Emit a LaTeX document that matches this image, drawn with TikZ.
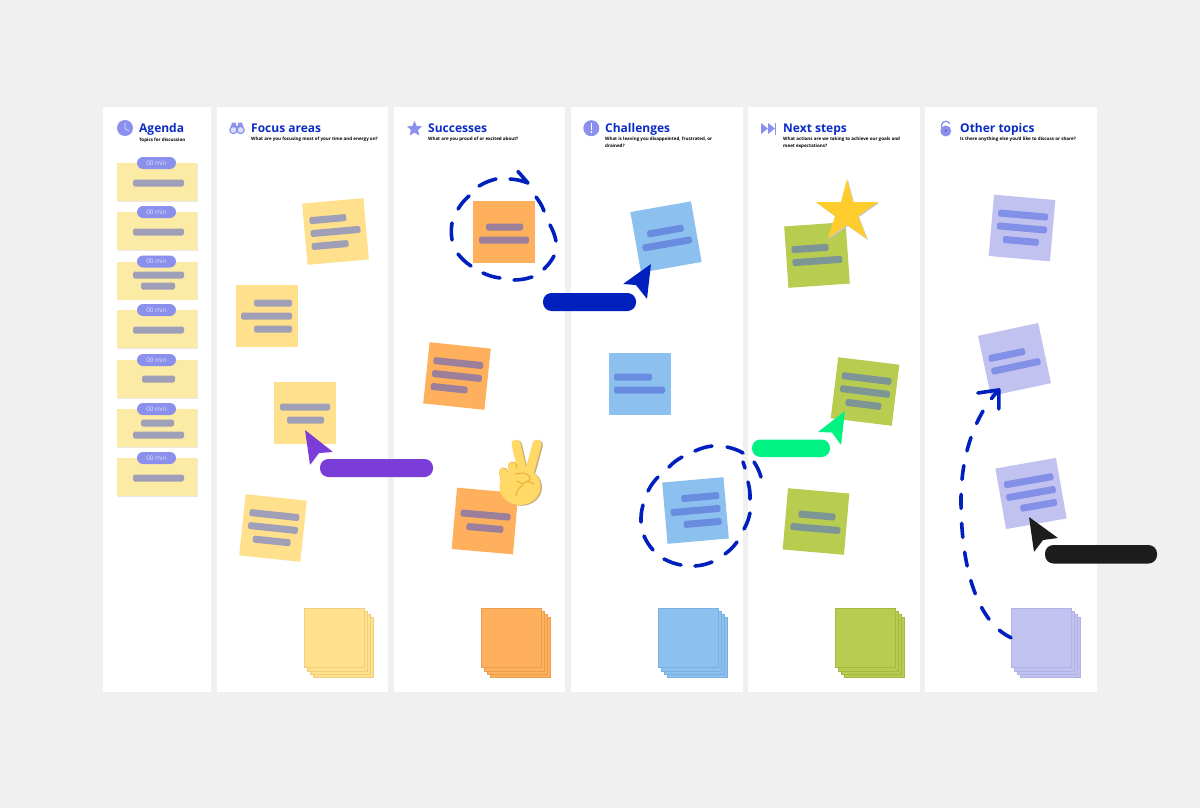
\documentclass[tikz,border=0pt]{standalone}
\usepackage{fontspec}
\setmainfont{Open Sans}
\usetikzlibrary{calc}
\definecolor{pagebg}{HTML}{F0F0F0}
\definecolor{navy}{HTML}{0A2BC8}
\definecolor{dashblue}{HTML}{0020BE}
\definecolor{iconblue}{HTML}{8A90EC}
\definecolor{cardy}{HTML}{FBEBA5}
\definecolor{ye}{HTML}{FFE08C}\definecolor{yeb}{HTML}{A09FB8}\definecolor{yee}{HTML}{EFCF7E}
\definecolor{or}{HTML}{FFB05C}\definecolor{orb}{HTML}{9C7F9A}\definecolor{ore}{HTML}{EA9E50}
\definecolor{bl}{HTML}{8CC1EF}\definecolor{blb}{HTML}{6A8CE0}\definecolor{ble}{HTML}{7CB0E2}
\definecolor{gr}{HTML}{B8CC50}\definecolor{grb}{HTML}{7D9595}\definecolor{gre}{HTML}{A5B845}
\definecolor{li}{HTML}{C2C2F0}\definecolor{lib}{HTML}{8390E8}\definecolor{lie}{HTML}{B2B2E6}
\definecolor{purp}{HTML}{7A3DD8}\definecolor{mint}{HTML}{00F283}\definecolor{blackc}{HTML}{1C1C1C}
\definecolor{starc}{HTML}{FFCC2E}\definecolor{handc}{HTML}{FFD866}\definecolor{hande}{HTML}{E8AE35}\definecolor{handsh}{HTML}{C9B07A}
\tikzset{
  column/.style={fill=white,draw=none},
  sticky/.style={minimum width=61.5pt,minimum height=61.5pt,inner sep=0pt,outer sep=0pt,draw=none},
  sheet/.style={minimum width=60pt,minimum height=59.5pt,inner sep=0pt,outer sep=0pt,line width=.4pt},
  card/.style={minimum width=80pt,minimum height=38pt,inner sep=0pt,outer sep=0pt,fill=cardy,anchor=north west},
  pill/.style={minimum width=39pt,minimum height=12pt,inner sep=0pt,rounded corners=6pt,fill=iconblue,text=white!75!iconblue,font=\fontsize{6.4}{7}\selectfont},
  title/.style={anchor=base west,inner sep=0pt,text=navy,font=\fontsize{12}{14}\selectfont\bfseries},
  subt/.style={anchor=north west,inner sep=0pt,align=left,text=black,font=\fontsize{4.5}{6.6}\selectfont\bfseries},
  dsh/.style={draw=dashblue,line width=3.6pt,line cap=round,line join=round},
  tag/.style={rounded corners=8.5pt},
}
% #1 name #2 x #3 y #4 angle #5 colour prefix #6 bars dy/x1/x2
\newcommand{\stickynote}[6]{%
  \node[sticky,fill=#5,rotate=#4] (#1) at (#2,#3) {};
  \begin{scope}[shift={(#2,#3)},rotate=#4]
    \foreach \d/\a/\b in {#6}{\fill[#5b,rounded corners=1.6pt] (\a,\d-3.5) rectangle (\b,\d+3.5);}
  \end{scope}}
% #1 name #2 x #3 colour prefix
\newcommand{\stackpad}[3]{%
  \foreach \o in {9.6,6.4,3.2}{\fill[#3,draw=#3e,line width=.4pt] (#2+\o,608+\o) rectangle (#2+\o+60,608+\o+59.5);}
  \node[sheet,fill=#3,draw=#3e,anchor=north west] (#1) at (#2,608) {};}
% #1 name #2 y
\newcommand{\agendacard}[2]{%
  \fill[black!9] (117.5,#2+.8) rectangle (197.8,#2+38.8);
  \node[card] (#1) at (117,#2) {};
  \node[pill] (#1p) at (156.5,#2) {00 min};}
\newcommand{\abar}[3]{\fill[yeb,rounded corners=1.6pt] (#1,#3-3.5) rectangle (#2,#3+3.5);}
\begin{document}
\begin{tikzpicture}[x=1pt,y=-1pt]
\useasboundingbox (0,0) rectangle (1200,808);
\fill[pagebg] (0,0) rectangle (1200,808);
% columns
\fill[column] (103,107) rectangle (211,692);
\fill[column] (217,107) rectangle (388,692);
\fill[column] (394,107) rectangle (565,692);
\fill[column] (571,107) rectangle (743,692);
\fill[column] (748,107) rectangle (920,692);
\fill[column] (925,107) rectangle (1097,692);
% titles
\node[title] (t1) at (139,132.5) {Agenda};
\node[title] (t2) at (251,132.5) {Focus areas};
\node[title] (t3) at (428,132.5) {Successes};
\node[title] (t4) at (605,132.5) {Challenges};
\node[title] (t5) at (783,132.5) {Next steps};
\node[title] (t6) at (960,132.5) {Other topics};
\node[subt] (u1) at (139,138) {Topics for discussion};
\node[subt] (u2) at (251,137) {What are you focusing most of your time and energy on?};
\node[subt] (u3) at (428,137) {What are you proud of or excited about?};
\node[subt] (u4) at (605,137) {What is leaving you disappointed, frustrated, or\\drained?};
\node[subt] (u5) at (783,137) {What actions are we taking to achieve our goals and\\meet expectations?};
\node[subt] (u6) at (960,137) {Is there anything else you'd like to discuss or share?};
% icons
\fill[iconblue] (125,128) circle (8);
\draw[white!70!iconblue,line width=.7pt] (125,122.5) -- (125,128.5) -- (129,131);
\fill[iconblue] (230.5,128) -- (232,122.5) -- (235.5,122.5) -- (236.5,126) -- (237.5,126) -- (238.5,122.5) -- (242,122.5) -- (243.5,128) -- cycle;
\draw[iconblue,fill=white!70!iconblue,line width=1.2pt] (233.4,130) circle (3.6) (240.6,130) circle (3.6);
\fill[iconblue] (414.5,121) -- (416.7,126) -- (422,126.4) -- (418,130) -- (419.3,135.5) -- (414.5,132.6) -- (409.7,135.5) -- (411,130) -- (407,126.4) -- (412.3,126) -- cycle;
\fill[iconblue] (591.3,128.2) circle (8);
\fill[white] (590.5,123) rectangle (592.1,129.6);
\fill[white] (591.3,132) circle (.95);
\fill[iconblue] (761,123) -- (768,128.5) -- (761,134) -- cycle;
\fill[iconblue] (768,123) -- (775,128.5) -- (768,134) -- cycle;
\fill[iconblue] (775,122.5) rectangle (776.4,134.5);
\draw[iconblue,line width=1.3pt] (941.5,128) -- (941.5,125.5) arc[start angle=180,end angle=335,radius=4.3];
\fill[iconblue] (945.8,131) circle (5.5);
\fill[iconblue!60!black] (945.8,130.8) circle (1.1);
% agenda
\agendacard{a1}{163}\abar{133}{184}{183}
\agendacard{a2}{212}\abar{133}{184}{232}
\agendacard{a3}{261.5}\abar{133}{184}{275}\abar{141}{175}{286}
\agendacard{a4}{310}\abar{133}{184}{330}
\agendacard{a5}{360}\abar{142}{175}{379}
\agendacard{a6}{409}\abar{141}{174}{423}\abar{133}{184}{435}
\agendacard{a7}{458}\abar{133}{184}{478}
% focus
\stickynote{f1}{335.5}{231.5}{5}{ye}{-13/-25/12,0/-25/25,13/-25/12}
\stickynote{f2}{267}{316}{0}{ye}{-13/-13/25,0/-26/25,13/-13/25}
\stickynote{f3}{305}{413}{0}{ye}{-6/-25/25,7/-18/19}
\stickynote{f4}{273}{528}{-6}{ye}{-13/-25/25,0/-25/25,13/-19/19}
% successes
\stickynote{s1}{504}{232}{0}{or}{-5/-18/19,8/-25/25}
\stickynote{s2}{457}{376}{-6}{or}{-13/-25/25,0/-25/25,13/-25/12}
\stickynote{s3}{485}{521}{-5}{or}{-6/-25/25,7/-18/19}
% challenges
\stickynote{c1}{666}{237}{10}{bl}{-6/-18/19,7/-25/25}
\stickynote{c2}{640}{384}{0}{bl}{-7/-26/12,6/-26/25}
\stickynote{c3}{695.5}{510.5}{5}{bl}{-13/-13/25,0/-25/25,13/-13/25}
% next steps
\stickynote{n1}{817}{255}{4}{gr}{-7/-25/12,6/-25/25}
\stickynote{n2}{865}{391.5}{-7}{gr}{-13/-25/25,0/-25/25,13/-18/18}
\stickynote{n3}{816}{521.5}{-5}{gr}{-6/-18/19,7/-25/25}
% other
\stickynote{o1}{1022}{228}{-5}{li}{-13/-25/25,0/-25/25,13/-18/18}
\stickynote{o2}{1014.5}{359.5}{12}{li}{-6/-25/12,7/-25/25}
\stickynote{o3}{1031}{493.5}{10}{li}{-13/-25/25,0/-25/25,13/-13/24}
% pads
\stackpad{p1}{304}{ye}
\stackpad{p2}{481}{or}
\stackpad{p3}{658}{bl}
\stackpad{p4}{835}{gr}
\stackpad{p5}{1011}{li}
% star
\fill[black!22] (848,180) -- (854,203) -- (879,203) -- (859,217) -- (868,240) -- (848,226) -- (829,239) -- (836,217) -- (817,203) -- (842,203) -- cycle;
\fill[starc] (847,179) -- (853,202) -- (878,202) -- (858,216) -- (867,239) -- (847,225) -- (828,238) -- (835,216) -- (816,202) -- (841,202) -- cycle;
% hand
\begin{scope}[shift={(1.5,.8)}]
  \draw[handsh,line width=9pt,line cap=round] (516,444) -- (522,470) (537,444) -- (530,470);
  \fill[handsh] (520,486.5) ellipse (20.5 and 18.5);
\end{scope}
\draw[handc,line width=9pt,line cap=round] (516,444) -- (522,470) (537,444) -- (530,470);
\draw[hande,line width=9pt,line cap=round] (512.4,466) -- (514.4,475) (503.6,472) -- (505.6,482);
\draw[handc,line width=7.8pt,line cap=round] (512,466) -- (514,475) (503.2,472) -- (505.2,482);
\fill[handc] (520,486.5) ellipse (20.5 and 18.5);
\draw[hande,line width=.9pt,line cap=round] (515,474) -- (523,473) .. controls (530,475) and (532,478) .. (528,481) (523,485) .. controls (519,488) and (516,491) .. (516,496) (517,481) -- (522,484) -- (528,481) -- (534,484);
% dashed ring 1
\draw[dsh] (536,197) to[bend left=8] (544,211);
\draw[dsh] (550,225) to[bend left=8] (556,241);
\draw[dsh] (554,256) to[bend left=8] (544,269);
\draw[dsh] (532,277) to[bend left=8] (514,280);
\draw[dsh] (500,278) to[bend left=8] (483,273);
\draw[dsh] (471,266) to[bend left=8] (458,254);
\draw[dsh] (452,240) to[bend left=8] (452,223);
\draw[dsh] (458,209) to[bend left=8] (469,196);
\draw[dsh] (479,186) to[bend left=8] (496,179);
\draw[dsh] (510,179) to[bend left=8] (528,183) -- (518,171.5);
% dashed ring 2
\draw[dsh] (727,447) to[bend left=8] (743,453);
\draw[dsh] (743,462) -- (745,468);
\draw[dsh] (754,462) to[bend left=8] (761,477);
\draw[dsh] (748,482) to[bend left=8] (750,499);
\draw[dsh] (750,513) to[bend left=8] (744,529);
\draw[dsh] (737,542) to[bend left=8] (725,554);
\draw[dsh] (712,562) to[bend left=8] (695,566);
\draw[dsh] (681,565) to[bend left=8] (664,559);
\draw[dsh] (653,550) to[bend left=8] (644,536);
\draw[dsh] (641,522) to[bend left=8] (643,505);
\draw[dsh] (648,491) to[bend left=8] (658,477);
\draw[dsh] (669,467) to[bend left=8] (682,457);
\draw[dsh] (695,451) to[bend left=8] (712,446);
% connector
\coordinate (o2in) at ($(o2.south west)+(8,-6)$);
\draw[dsh,dash pattern=on 14pt off 15pt]
  (p5.west) .. controls (978,622) and (961,570) .. (961,500) .. controls (961,455) and (975,415) .. (o2in);
\draw[dsh] ($(o2in)+(-21,3)$) -- (o2in) -- ($(o2in)+(0,19)$);
% cursors
\fill[purp,rounded corners=.6pt] (305,430) -- (333,452) -- (319,453) -- (310,465) -- cycle;
\fill[purp,tag] (320,459) rectangle (433,477);
\fill[dashblue,rounded corners=.6pt] (651,264) -- (623,284) -- (636,285) -- (647,299) -- cycle;
\fill[dashblue,tag] (543,293) rectangle (636,311);
\fill[mint,rounded corners=.6pt] (845,411) -- (818,432) -- (832,432.5) -- (841,445) -- cycle;
\fill[mint,tag] (752,439.5) rectangle (830,457);
\fill[blackc,rounded corners=.6pt] (1029,517) -- (1058,538) -- (1043,540) -- (1034,552) -- cycle;
\fill[blackc,tag] (1045,545) rectangle (1157,563.5);
\end{tikzpicture}
\end{document}
